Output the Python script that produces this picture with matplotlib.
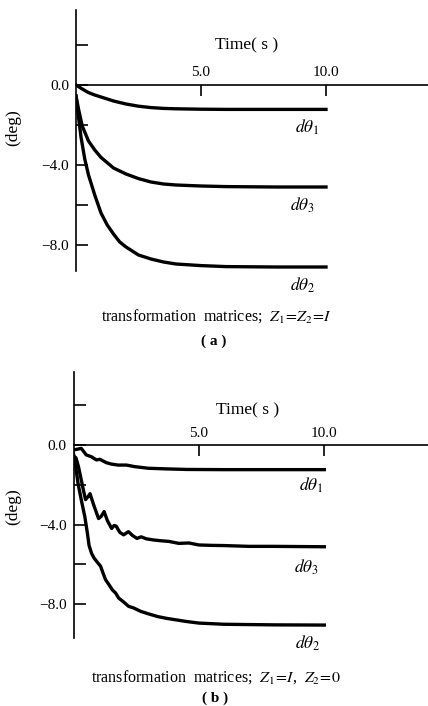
import matplotlib
matplotlib.use("Agg")
import matplotlib.pyplot as plt

plt.rcParams['font.family'] = 'serif'
plt.rcParams['font.serif'] = ['Liberation Serif', 'DejaVu Serif']
plt.rcParams['mathtext.fontset'] = 'stix'

# ---- panel (a): Z1 = Z2 = I ----
t_a1 = [0, 0.25, 0.5, 0.75, 1.0, 1.5, 2.0, 2.5, 3.0, 3.5, 4.0, 5.0, 6.0, 8.0, 10.0]
dth1_a = [0, -0.2, -0.38, -0.5, -0.6, -0.8, -0.95, -1.06, -1.13, -1.17, -1.19, -1.21, -1.22, -1.22, -1.22]

t_a3 = [0, 0.1, 0.25, 0.5, 0.75, 1.0, 1.5, 2.0, 2.5, 3.0, 3.5, 4.0, 5.0, 6.0, 8.0, 10.0]
dth3_a = [-0.55, -1.2, -2.05, -2.8, -3.25, -3.62, -4.15, -4.45, -4.68, -4.85, -4.95, -5.0, -5.05, -5.08, -5.1, -5.1]

t_a2 = [0, 0.1, 0.2, 0.35, 0.5, 0.75, 1.0, 1.25, 1.5, 1.75, 2.0, 2.5, 3.0, 3.5, 4.0, 5.0, 6.0, 8.0, 10.0]
dth2_a = [-0.55, -1.6, -2.6, -3.7, -4.5, -5.5, -6.4, -7.0, -7.45, -7.85, -8.1, -8.5, -8.7, -8.85, -8.95, -9.03, -9.08, -9.1, -9.1]

# ---- panel (b): Z1 = I, Z2 = 0 ----
t_b1 = [0, 0.31, 0.51, 0.71, 0.91, 1.05, 1.31, 1.51, 1.78, 2.11, 2.45, 2.98, 3.65, 4.5, 6.0, 8.0, 10.0]
dth1_b = [-0.25, -0.17, -0.5, -0.59, -0.75, -0.72, -0.89, -0.96, -1.01, -1.01, -1.09, -1.17, -1.2, -1.23, -1.24, -1.24, -1.24]

t_b3 = [0, 0.1, 0.2, 0.3, 0.4, 0.48, 0.58, 0.66, 0.8, 1.0, 1.1, 1.22, 1.35, 1.52, 1.62, 1.7, 1.85,
        2.0, 2.19, 2.35, 2.53, 2.7, 2.9, 3.2, 3.5, 3.8, 4.2, 4.6, 5.0, 5.5, 6.0, 7.0, 8.0, 10.0]
dth3_b = [-0.55, -0.65, -1.1, -1.7, -2.3, -2.75, -2.6, -2.45, -3.0, -3.7, -3.6, -3.35, -3.8, -4.2, -4.05, -4.08, -4.4,
          -4.52, -4.36, -4.55, -4.7, -4.62, -4.72, -4.78, -4.82, -4.85, -4.95, -4.93, -5.03, -5.05, -5.06, -5.1, -5.1, -5.12]

t_b2 = [0, 0.05, 0.18, 0.31, 0.45, 0.55, 0.62, 0.72, 0.82, 0.95, 1.08, 1.18, 1.28, 1.4, 1.55, 1.68, 1.8,
        2.0, 2.2, 2.4, 2.68, 3.0, 3.35, 3.7, 4.0, 4.5, 5.0, 6.0, 8.0, 10.0]
dth2_b = [-0.45, -0.75, -1.93, -2.76, -3.6, -4.4, -5.05, -5.45, -5.69, -5.9, -6.1, -6.45, -6.78, -7.0, -7.29, -7.45, -7.7,
          -7.9, -8.12, -8.2, -8.37, -8.5, -8.63, -8.72, -8.78, -8.88, -8.96, -9.02, -9.05, -9.06]

xtick_vals = [5.0, 10.0]
ytick_major = [0.0, -4.0, -8.0]
ytick_minor = [2.0, -2.0, -6.0]
ytick_labels = ['0.0', '\u22124.0', '\u22128.0']

W, H = 428, 706
fig = plt.figure(figsize=(W / 100, H / 100), dpi=100)


def make_axes(left, top, bottom, zero_px, ppu_y, ppu_x):
    # pixel geometry -> figure fractions and data limits
    ax = fig.add_axes([left / W, (H - bottom) / H, (W - left) / W, (bottom - top) / H])
    ax.set_xlim(0, (W - left) / ppu_x)
    ax.set_ylim(-(bottom - zero_px) / ppu_y, (zero_px - top) / ppu_y)
    ax.spines['top'].set_visible(False)
    ax.spines['right'].set_visible(False)
    ax.spines['bottom'].set_position(('data', 0))
    ax.spines['left'].set_linewidth(1.2)
    ax.spines['bottom'].set_linewidth(1.2)
    ax.set_xticks(xtick_vals)
    ax.set_xticklabels([])
    ax.tick_params(axis='x', direction='out', length=8, width=1.2)
    ax.set_yticks(ytick_major)
    ax.set_yticklabels(ytick_labels, fontsize=11)
    ax.set_yticks(ytick_minor, minor=True)
    ax.tick_params(axis='y', which='both', direction='in', length=8.5, width=1.2, pad=5)
    ax.patch.set_visible(False)
    for xv in xtick_vals:
        ax.text(xv, 0.6, f'{xv:.1f}', ha='center', va='center', fontsize=11)
    return ax


ax_a = make_axes(76, 10, 271, 85, 20.0, 25.0)
ax_a.plot(t_a1, dth1_a, color='black', lw=2.4)
ax_a.plot(t_a3, dth3_a, color='black', lw=2.4)
ax_a.plot(t_a2, dth2_a, color='black', lw=2.4)
ax_a.text(6.84, 2.0, 'Time( s )', ha='center', va='center', fontsize=12.5)
ax_a.text(9.24, -2.1, r'$d\theta_1$', ha='center', va='center', fontsize=12.5)
ax_a.text(9.04, -6.0, r'$d\theta_3$', ha='center', va='center', fontsize=12.5)
ax_a.text(9.04, -10.0, r'$d\theta_2$', ha='center', va='center', fontsize=12.5, clip_on=False)

ax_b = make_axes(73.5, 371.7, 638, 445, 19.875, 25.08)
ax_b.plot(t_b1, dth1_b, color='black', lw=2.4)
ax_b.plot(t_b3, dth3_b, color='black', lw=2.4)
ax_b.plot(t_b2, dth2_b, color='black', lw=2.4)
ax_b.text(6.94, 1.76, 'Time( s )', ha='center', va='center', fontsize=12.5)
ax_b.text(9.46, -2.01, r'$d\theta_1$', ha='center', va='center', fontsize=12.5)
ax_b.text(9.26, -6.14, r'$d\theta_3$', ha='center', va='center', fontsize=12.5)
ax_b.text(9.34, -9.96, r'$d\theta_2$', ha='center', va='center', fontsize=12.5, clip_on=False)

fig.text(13 / W, 1 - 128 / H, '(deg)', rotation=90, ha='center', va='center', fontsize=12.5)
fig.text(13 / W, 1 - 507 / H, '(deg)', rotation=90, ha='center', va='center', fontsize=12.5)

fig.text(216 / W, 1 - 316 / H, r'transformation  matrices;  $Z_1\!=\!Z_2\!=\!I$',
         ha='center', va='center', fontsize=11.5)
fig.text(214 / W, 1 - 341 / H, '( a )', ha='center', va='center', fontsize=11, fontweight='bold')
fig.text(216 / W, 1 - 677 / H, r'transformation  matrices;  $Z_1\!=\!I$,  $Z_2\!=\!0$',
         ha='center', va='center', fontsize=11.5)
fig.text(215 / W, 1 - 698 / H, '( b )', ha='center', va='center', fontsize=11, fontweight='bold')

fig.savefig('out.png', dpi=100)
